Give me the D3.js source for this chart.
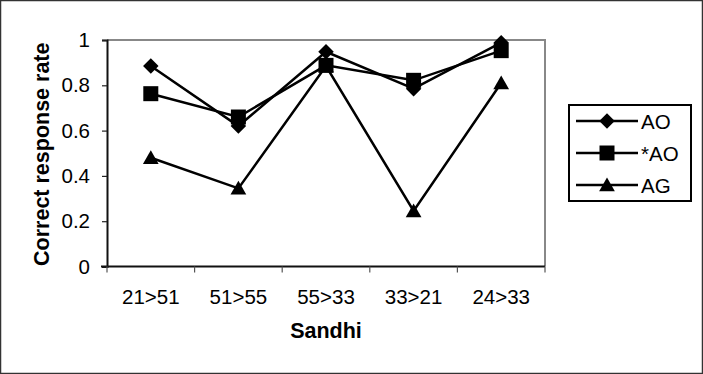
<!DOCTYPE html>
<html><head><meta charset="utf-8">
<script src="https://cdn.jsdelivr.net/npm/d3@7"></script>
<style>body{margin:0;background:#fff}svg{display:block}</style>
</head><body>
<svg id="c" width="703" height="374"></svg>
<script>
const categories = ["21>51","51>55","55>33","33>21","24>33"];
const seriesNames = ["AO","*AO","AG"];
const valuesAO  = [0.885, 0.62, 0.948, 0.785, 0.988];
const valuesSAO = [0.763, 0.66, 0.888, 0.822, 0.953];
const valuesAG  = [0.48, 0.345, 0.885, 0.245, 0.81];
const yTicks = [0, 0.2, 0.4, 0.6, 0.8, 1];
const yTickLabels = ["0","0.2","0.4","0.6","0.8","1"];

const symbolRhomb = {draw(ctx, size){ const r = Math.sqrt(size/2); ctx.moveTo(0,-r); ctx.lineTo(r,0); ctx.lineTo(0,r); ctx.lineTo(-r,0); ctx.closePath(); }};
const symbolTri = {draw(ctx, size){ const h = Math.sqrt(size*0.87); const w = h*1.15; ctx.moveTo(0,-h*0.55); ctx.lineTo(w/2,h*0.45); ctx.lineTo(-w/2,h*0.45); ctx.closePath(); }};

const series = [
  {name: seriesNames[0], values: valuesAO, symbol: symbolRhomb, size: 120},
  {name: seriesNames[1], values: valuesSAO, symbol: d3.symbolSquare, size: 225},
  {name: seriesNames[2], values: valuesAG, symbol: symbolTri, size: 215}
];

const svg = d3.select("#c");
const font = "Arial, 'Liberation Sans', sans-serif";
svg.append("rect").attr("x",0.5).attr("y",0.5).attr("width",702).attr("height",373)
  .attr("fill","#fff").attr("stroke","#333").attr("stroke-width",1.5);

const L=107, R=545, T=40, B=266.5;
const x = d3.scaleBand().domain(categories).range([L,R]);
const y = d3.scaleLinear().domain([0,1]).range([B,T]);

svg.append("path").attr("d",`M${L},${T}H${R}V${B}`).attr("fill","none")
  .attr("stroke","#888").attr("stroke-width",2);

const yAxis = d3.axisLeft(y).tickValues(yTicks).tickFormat((d,i)=>yTickLabels[i]).tickSize(5).tickPadding(12);
const ga = svg.append("g").attr("transform",`translate(${L},0)`).call(yAxis);
ga.select(".domain").attr("stroke","#111").attr("stroke-width",2);
ga.selectAll(".tick line").attr("stroke","#222").attr("stroke-width",1.2);
ga.selectAll("text").attr("font-family",font).attr("font-size",20.5).attr("fill","#000");

const xa = svg.append("g").attr("transform",`translate(0,${B})`);
xa.append("line").attr("x1",L-6).attr("x2",R).attr("stroke","#111").attr("stroke-width",2);
const bounds = categories.map(c=>x(c)).concat([x(categories[categories.length-1])+x.bandwidth()]);
xa.selectAll("line.t").data(bounds).join("line").attr("class","t")
  .attr("x1",d=>d).attr("x2",d=>d).attr("y1",0).attr("y2",6).attr("stroke","#555").attr("stroke-width",1.2);
xa.selectAll("text").data(categories).join("text")
  .attr("x",d=>x(d)+x.bandwidth()/2).attr("y",37).attr("text-anchor","middle")
  .attr("font-family",font).attr("font-size",20.5).text(d=>d);

svg.append("text").attr("x",(L+R)/2).attr("y",338).attr("text-anchor","middle")
  .attr("font-family",font).attr("font-weight","bold").attr("font-size",21.5).text("Sandhi");
svg.append("text").attr("transform",`translate(49,${(T+B)/2+1}) rotate(-90)`).attr("text-anchor","middle")
  .attr("font-family",font).attr("font-weight","bold").attr("font-size",21.5).text("Correct response rate");

const line = d3.line().x((d,i)=>x(categories[i])+x.bandwidth()/2).y(d=>y(d));
series.forEach(s=>{
  svg.append("path").attr("d",line(s.values)).attr("fill","none").attr("stroke","#000").attr("stroke-width",2.5);
});
series.forEach(s=>{
  svg.selectAll(null).data(s.values).join("path")
    .attr("transform",(d,i)=>`translate(${x(categories[i])+x.bandwidth()/2},${y(d)})`)
    .attr("d",d3.symbol(s.symbol,s.size)()).attr("fill","#000");
});

const lg = svg.append("g");
lg.append("rect").attr("x",569).attr("y",105).attr("width",122).attr("height",96)
  .attr("fill","#fff").attr("stroke","#000").attr("stroke-width",2);
series.forEach((s,i)=>{
  const yy = 121 + i*32;
  lg.append("line").attr("x1",576).attr("x2",638).attr("y1",yy).attr("y2",yy).attr("stroke","#000").attr("stroke-width",2.5);
  lg.append("path").attr("transform",`translate(607,${yy})`).attr("d",d3.symbol(s.symbol,s.size)()).attr("fill","#000");
  lg.append("text").attr("x",641).attr("y",yy+7.5).attr("font-family",font).attr("font-size",20.5).text(s.name);
});
</script>
</body></html>
